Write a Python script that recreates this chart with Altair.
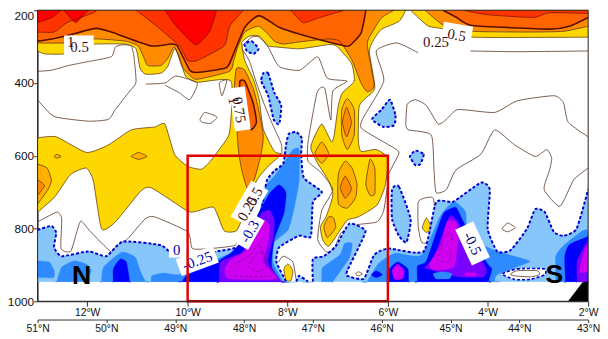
import altair as alt
import pandas as pd

# polygons: "lat hPa lat hPa ..."
YELLOW = [
"51 200 45.65 200 45.75 231 46.00 252 46.11 279 46.18 314 46.10 414 46.26 446 46.33 467 46.34 556 46.30 588 46.08 583 45.91 607 45.95 682 46.07 736 46.34 768 46.50 777 46.63 812 46.77 849 46.86 830 46.89 795 46.81 768 46.74 731 46.71 704 46.77 669 46.93 621 47.03 580 46.99 553 46.87 513 46.73 562 46.69 543 46.63 462 46.57 427 46.40 395 46.44 346 46.66 298 46.79 295 47.19 306 47.53 301 47.65 298 47.78 271 47.92 271 48.03 287 48.03 298 47.99 338 47.86 392 47.78 446 47.72 527 47.56 588 47.46 596 47.65 629 47.82 669 47.99 755 48.11 806 48.29 806 48.44 742 48.68 752 48.82 752 49.35 688 49.51 699 49.87 782 50.07 801 50.19 669 50.29 634 50.47 645 50.55 658 50.76 715 51 755 51 551 50.73 548 50.29 591 49.97 570 49.64 529 49.30 521 49.15 513 49.01 596 48.82 629 48.62 637 48.49 615 48.35 580 48.21 535 48.19 395 48.68 398 48.85 381 48.94 328 49.01 306 49.11 355 49.21 373 49.43 376 49.51 360 49.57 306 49.73 293 50.16 293 50.52 298 50.62 320 50.90 320 51 312",
"45.58 200 45.47 220 45.32 244 45.08 252 44.68 274 43 274 43 200",
"45.35 771 45.41 798 45.35 811 45.28 798",
"47.37 898 47.42 911 47.39 943 47.32 943 47.29 919 47.33 903",
]
ORANGE_LIGHT = [
"46.50 443 46.58 473 46.58 543 46.50 583 46.40 543 46.40 473",
"46.87 562 46.97 594 46.87 621 46.77 594",
"46.53 615 46.63 650 46.63 731 46.50 744 46.38 715 46.36 677 46.43 634",
"46.17 610 46.23 677 46.17 709 46.10 704 46.10 634",
"46.77 768 46.84 795 46.79 825 46.67 798 46.70 771",
"51 623 50.86 634 50.80 669 50.86 696 51 733",
"50.76 602 50.72 596 50.66 602 50.72 607",
"49.64 602 49.53 591 49.41 602 49.53 610",
]
ORANGE = [
"51 200 45.82 200 46.00 220 46.11 252 46.21 293 46.11 406 46.21 424 46.30 400 46.43 338 46.61 285 46.79 279 47.19 287 47.43 293 47.56 285 47.65 266 47.79 244 47.99 260 48.09 301 48.15 338 48.21 368 48.68 390 48.79 379 48.90 355 49.01 301 49.11 333 49.21 352 49.40 352 49.45 333 49.54 298 49.73 285 50.16 279 50.59 290 51 290",
"48.11 360 47.99 365 47.86 419 47.78 481 47.72 548 47.76 602 47.85 664 47.95 691 48.03 642 48.08 588 48.11 508 48.14 414",
"45.37 200 45.08 244 44.68 258 43.89 260 43.36 258 43 244 43 200",
"46.51 467 46.57 508 46.51 548 46.44 508",
"46.53 656 46.60 688 46.53 717 46.44 691",
"51 666 50.90 682 51 709",
]
DEEP_ORANGE = [
"51 200 46.23 200 46.30 263 46.47 298 46.61 295 47.19 266 47.49 247 47.78 215 47.99 247 48.21 346 48.29 360 48.68 371 48.79 365 48.97 298 49.07 293 49.35 298 49.93 260 50.16 250 50.59 271 50.79 279 51 285",
"45.11 200 44.91 220 44.68 242 43.56 252 43.27 244 43 220 43 200",
"48.06 395 47.99 395 47.87 454 47.82 508 47.90 527 48.02 467 48.06 427",
]
RED_ORANGE = [
"51 200 50.14 200 50.19 207 50.57 234 50.76 260 51 260",
"49.57 200 49.30 239 48.94 298 48.82 338 48.68 338 48.29 298 48.21 244 48.01 200",
"47.32 200 46.54 200 46.90 220 47.14 234",
"44.81 200 44.48 212 43.80 220 43.56 207 43 209 43 200",
]
RED = [
"51 200 50.66 200 50.79 220 51 234",
"50.62 200 50.45 234 50.33 212 50.26 200",
"49.15 200 48.97 247 48.70 295 48.50 258 48.40 200",
]
SKY = [
"51 804 50.80 793 50.73 812 50.76 852 50.65 876 50.26 863 50.00 876 49.76 836 49.21 846 49.01 876 48.75 876 48.46 865 48.06 849 47.89 790 47.75 750 47.67 669 47.56 642 47.43 621 47.39 570 47.35 540 47.24 535 47.16 553 47.17 596 47.13 661 46.87 699 47.00 728 47.03 822 47.20 820 47.49 852 47.53 892 47.39 946 51 946",
"47.24 946 47.20 930 47.07 946",
"47.00 946 47.00 884 46.84 876 46.67 849 46.47 787 46.24 804 46.28 830 46.50 916 46.50 930 46.26 938 46.11 873 45.90 855 45.39 863 45.21 728 44.96 726 44.56 674 44.43 693 44.46 801 44.32 863 44.13 860 43.89 801 43.77 747 43.63 755 43.50 809 43.36 820 43.17 801 43 693 43 946",
"47.99 293 47.89 285 47.79 306 47.86 320 47.96 312",
"47.72 373 47.65 373 47.56 427 47.46 462 47.49 513 47.57 500 47.65 435 47.75 395",
"45.88 446 45.80 489 45.82 516 45.97 521 46.14 500 46.00 473",
"45.51 586 45.39 596 45.44 623 45.51 626 45.59 602",
"45.85 693 45.75 685 45.58 774 45.64 838 45.75 820 45.85 774",
]
DODGER = [
"51 889 50.83 892 50.76 916 50.77 935 51 935",
"50.72 946 50.65 906 50.47 889 50.29 898 50.22 916 50.29 946",
"50.07 946 50.04 906 49.78 865 49.58 879 49.51 916 49.43 946",
"49.35 946 49.34 930 49.18 922 48.97 927 48.79 919 48.46 889 48.11 857 47.79 763 47.70 688 47.56 656 47.43 623 47.29 583 47.20 583 47.20 669 47.27 742 47.36 804 47.56 838 47.58 892 47.43 946",
"46.87 946 46.86 908 46.61 873 46.54 841 46.43 841 46.47 881 46.71 946",
"46.21 946 46.04 895 45.80 868 45.42 873 45.15 766 44.95 726 44.78 755 44.75 820 44.36 860 43.87 887 43.89 895 44.32 927 44.36 946",
"43.47 946 43.47 876 43.34 844 43.01 804 43 946",
]
BLUE = [
"49.90 946 49.90 911 49.80 884 49.71 892 49.66 946",
"48.90 946 48.82 927 48.46 898 48.18 865 47.96 817 47.79 758 47.63 704 47.49 680 47.39 702 47.42 758 47.56 830 47.60 903 47.46 946",
"46.15 927 46.08 916 45.99 927 46.08 935",
"45.92 946 45.91 916 45.77 892 45.62 911 45.61 946",
"45.48 946 45.48 903 45.35 889 45.16 785 45.09 755 44.92 742 44.81 782 44.48 892 44.40 911 44.45 946",
"43.33 946 43.34 876 43.27 844 43 822 43 946",
]
VIOLET = [
"47.75 758 47.63 750 47.56 777 47.58 830 47.65 892 47.46 946 48.36 946 48.34 892 48.03 865 47.85 804",
"45.38 908 45.24 879 45.02 768 44.91 777 44.81 809 44.49 906 44.52 933 44.88 933 45.24 916",
"43.16 946 43.16 889 43 830 43 946",
]
INNER_DODGER = ["45.25 924 45.12 919 44.98 924 45.02 938 45.21 938"]
MAGENTA = [
"47.70 777 47.63 795 47.65 838 47.72 892 47.53 938 48.22 938 48.28 911 48.18 884 47.99 863 47.82 804",
"45.31 898 45.14 844 45.05 782 44.92 782 44.89 830 44.95 906 45.24 914",
"45.85 916 45.77 898 45.67 916 45.70 938 45.81 940",
"44.79 922 44.63 922 44.63 930 44.78 930",
"43.13 919 43.05 857 43 844 43 919",
]
OVAL = ["44.25 925 44.03 911 43.64 911 43.63 927 43.84 940 44.07 940"]
MOUNTAIN = ["43.29 1000 43.08 948 43 946 43 1000"]

INNER_DASHED = [
"47.78 844 47.67 892 47.60 930 48.18 930 48.18 903 47.93 876 47.78 844",
"47.85 876 47.75 865 47.67 903 47.79 919 47.93 906 47.85 876",
"45.19 884 45.06 817 44.98 817 45.01 889 45.19 884",
]
CONTOURS = [
"51 368 50.80 365 50.55 352 50.26 341 49.93 328 49.87 301 49.76 295 49.64 298 49.60 328 49.57 398 49.66 422 49.87 473 49.97 500 50.26 505 50.76 492 51 446",
"49.43 403 49.15 400 48.99 381 48.68 400 48.79 446 48.94 427 49.15 406",
"48.36 400 48.25 392 48.32 435 48.36 400",
"48.64 500 48.57 481 48.39 494 48.49 511 48.61 508 48.64 500",
"48.03 306 47.92 341 47.82 400 47.70 462 47.60 508 47.46 567 47.45 596",
"48.03 298 47.89 274 47.78 274 47.65 301 47.49 355 47.19 365 46.93 328 46.79 387 46.50 395 46.71 422 46.74 502 46.83 414 46.94 427 47.07 562 47.07 615 46.89 645 46.71 693 46.87 750 46.93 830 46.80 865 46.69 857 46.59 812 46.37 790 46.07 782 45.97 750 45.90 661 45.90 650 45.75 594 45.81 580 46.28 527 46.28 500 45.97 395 46.08 312 45.78 290 45.47 317",
"44.71 312 44.03 314 43 312",
"45.65 516 45.63 459 45.51 446 45.35 462 45.18 513 45.06 500 44.89 473 44.36 481 44.03 449 43.50 435 43.36 454 43.29 508 43 548",
"45.65 516 45.61 529 45.28 543 45.24 639 45.21 701 45.06 693 44.92 639 44.56 596 44.36 529 44.07 570 43.77 602 43.60 583 43.53 607 43.56 639 43.64 693 43.41 739 43.21 666 43 634",
"44.25 801 44.17 785 44.06 798 44.17 809 44.25 801",
"45.47 728 45.39 717 45.25 717 45.22 787 45.29 836 45.42 838 45.47 793 45.47 728",
"51 782 50.72 755 50.65 774 50.66 855 50.52 863 50.43 809 50.37 779 50.23 809 49.94 863 49.86 849 49.69 828 49.44 774 49.30 768 48.82 809 48.75 855 48.49 855 48.13 846 47.99 809",
"47.50 892 47.43 876 47.29 892 47.24 946",
"46.38 925 46.34 919 46.28 925 46.34 930 46.38 925",
"44.13 925 44.03 916 43.74 916 43.71 927 43.84 933 44.07 930 44.13 925",
]

LAT_TICKS = [51, 50, 49, 48, 47, 46, 45, 44, 43]
LON_TICK_LATS = [50.28, 48.82, 47.37, 45.91, 44.46, 43.0]
LON_LABELS = ["12°W", "10°W", "8°W", "6°W", "4°W", "2°W"]
P_TICKS = [200, 400, 600, 800, 1000]

BOX_LAT = [50.40, 44.91, 48.06, 47.92, 47.92, 48.97, 48.68, 44.68]
BOX_P = [295, 268, 471, 731, 808, 857, 889, 841]
BOX_LEN = [30, 30, 44, 42, 34, 17, 40, 40]
BOX_THICK = [19, 22, 16, 20, 16, 17, 18, 20]
BOX_ANGLE = [0, 10, 82, 300, 300, 0, 340, 65]

LABEL_TEXT = ["0.5", "1", "0.25", "0.5", "0.75", "1", "0.5", "0.25", "-0.3", "0", "-0.25", "-0.5"]
LABEL_LAT = [50.39, 50.52, 45.21, 44.91, 48.07, 48.15, 47.85, 47.95, 47.92, 48.98, 48.68, 44.68]
LABEL_P = [301, 287, 287, 268, 474, 448, 712, 745, 808, 860, 889, 841]
LABEL_ANGLE = [0, 0, 0, 10, 80, 80, 300, 300, 300, 0, 340, 65]
LABEL_COLOR = ["#3a1010"] * 8 + ["#0000b0", "#0000b0", "#0000b0", "#00007a"]

REGION_LAT = [48.82, 45.91]
REGION_P = [600, 1000]

X = alt.Scale(domain=[51, 43], nice=False, zero=False)
Y = alt.Scale(domain=[1000, 200], nice=False, zero=False)
TENSION = 0.45


def parse(s):
    t = s.split()
    return [(float(t[i]), float(t[i + 1])) for i in range(0, len(t), 2)]


def on_frame(u):
    return u[0] in (51, 43) or u[1] in (200, 946, 1000)


def on_edge(u, v):
    return (u[0] == v[0] and u[0] in (51, 43)) or (u[1] == v[1] and u[1] in (200, 946, 1000))


def frame(polys, hard=False):
    rows = []
    for k, s in enumerate(polys):
        i = 0
        for u in parse(s):
            for _ in range(2 if hard and on_frame(u) else 1):
                rows.append({"lat": u[0], "p": u[1], "id": k, "i": i})
                i += 1
    return pd.DataFrame(rows)


def runs(polys):
    out = []
    for s in polys:
        pts = parse(s)
        pts = pts + [pts[0]]
        cur = [pts[0]]
        for u, v in zip(pts, pts[1:]):
            if on_edge(u, v):
                if len(cur) > 1:
                    out.append(cur)
                cur = [v]
            else:
                cur.append(v)
        if len(cur) > 1:
            out.append(cur)
    return [" ".join(f"{a} {b}" for a, b in r) for r in out]


def enc(ch):
    return ch.encode(
        x=alt.X("lat:Q", scale=X, axis=None),
        y=alt.Y("p:Q", scale=Y, axis=None),
        detail="id:N",
        order=alt.Order("i:Q"),
    )


def fill(polys, color):
    return enc(alt.Chart(frame(polys, hard=True)).mark_line(
        filled=True, fill=color, stroke=color, strokeWidth=0.3, clip=True,
        interpolate="cardinal-closed", tension=TENSION))


def line(polys, color, width, dash=None):
    kw = {"strokeDash": dash} if dash else {}
    closed, opened = [], []
    for s in polys:
        pts = parse(s)
        if pts[0] == pts[-1]:
            closed.append(" ".join(f"{a} {b}" for a, b in pts[:-1]))
        else:
            opened.append(s)
    out = []
    if opened:
        out.append(enc(alt.Chart(frame(opened)).mark_line(
            color=color, strokeWidth=width, clip=True, interpolate="cardinal", tension=TENSION, **kw)))
    if closed:
        out.append(enc(alt.Chart(frame(closed)).mark_line(
            color=color, strokeWidth=width, clip=True, interpolate="cardinal-closed", tension=TENSION, **kw)))
    return out


BROWN = "#4d2c1a"
layers = []
for polys, col in [(YELLOW, "#FFD700"), (ORANGE_LIGHT, "#FFB000"), (ORANGE, "#FF8C00"),
                   (DEEP_ORANGE, "#FF6400"), (RED_ORANGE, "#FF3300"), (RED, "#FF0000")]:
    layers.append(fill(polys, col))
for polys, w, c in [(YELLOW, 0.7, BROWN), (ORANGE_LIGHT, 0.7, BROWN), (ORANGE, 0.7, BROWN),
                    (DEEP_ORANGE, 1.6, "#5a0f00"), (RED_ORANGE, 0.7, "#6a1500"), (RED, 0.7, "#6a1500")]:
    layers += line(runs(polys), c, w)
layers += line(CONTOURS, "#6b4a3a", 0.9)
for polys, col in [(SKY, "#87C6FA"), (DODGER, "#2E8BFF"), (BLUE, "#0000FF"), (VIOLET, "#7A00FF"),
                   (INNER_DODGER, "#2E8BFF"), (MAGENTA, "#D000F0")]:
    layers.append(fill(polys, col))
layers += line(INNER_DASHED, "#8000A0", 0.8, [3, 2])
layers += line(runs(SKY), "#0000CD", 2, [3, 2])
layers.append(fill(OVAL, "#FFFFFF"))
layers += line(runs(OVAL), "#0000CD", 1.6, [3, 2])
layers += line(CONTOURS[-1:], "#6b4a3a", 0.9)
layers.append(enc(alt.Chart(frame(MOUNTAIN)).mark_line(filled=True, fill="#000000", stroke="#000000", strokeWidth=0.3, clip=True)))

boxes = pd.DataFrame({
    "lat": BOX_LAT, "p": BOX_P,
    "size": [v * v for v in BOX_LEN],
    "angle": BOX_ANGLE,
    "shape": [f"M-1,{-t / l:.3f}L1,{-t / l:.3f}L1,{t / l:.3f}L-1,{t / l:.3f}Z" for l, t in zip(BOX_LEN, BOX_THICK)],
})
layers.append(alt.Chart(boxes).mark_point(filled=True, fill="#FFFFFF", opacity=1, strokeWidth=0).encode(
    x=alt.X("lat:Q", scale=X, axis=None),
    y=alt.Y("p:Q", scale=Y, axis=None),
    size=alt.Size("size:Q", scale=None),
    angle=alt.Angle("angle:Q", scale=None),
    shape=alt.Shape("shape:N", scale=None),
))
labels = pd.DataFrame({"lat": LABEL_LAT, "p": LABEL_P, "t": LABEL_TEXT, "a": LABEL_ANGLE, "c": LABEL_COLOR})
layers.append(alt.Chart(labels).mark_text(font="Liberation Serif", fontSize=15).encode(
    x=alt.X("lat:Q", scale=X, axis=None),
    y=alt.Y("p:Q", scale=Y, axis=None),
    text="t:N",
    angle=alt.Angle("a:Q", scale=None),
    color=alt.Color("c:N", scale=None),
))
letters = pd.DataFrame({"lat": [50.36, 43.49], "p": [932, 927], "t": ["N", "S"]})
layers.append(alt.Chart(letters).mark_text(font="Liberation Sans", fontSize=27, fontWeight="bold", color="#000000").encode(
    x=alt.X("lat:Q", scale=X, axis=None),
    y=alt.Y("p:Q", scale=Y, axis=None),
    text="t:N",
))

region = pd.DataFrame({"a": [REGION_LAT[0]], "b": [REGION_LAT[1]], "c": [REGION_P[0]], "d": [REGION_P[1]]})
layers.append(alt.Chart(region).mark_rect(filled=False, stroke="#E00000", strokeWidth=2.5).encode(
    x=alt.X("a:Q", scale=X, axis=None), x2="b:Q",
    y=alt.Y("c:Q", scale=Y, axis=None), y2="d:Q",
))
box = pd.DataFrame({"a": [51], "b": [43], "c": [200], "d": [1000]})
layers.append(alt.Chart(box).mark_rect(filled=False, stroke="#222222", strokeWidth=1).encode(
    x=alt.X("a:Q", scale=X, axis=None), x2="b:Q",
    y=alt.Y("c:Q", scale=Y, axis=None), y2="d:Q",
))

axis_data = pd.DataFrame({"lat": [51, 43], "p": [200, 1000]})
lat_axis = alt.Chart(axis_data).mark_point(opacity=0).encode(
    x=alt.X("lat:Q", scale=X, title=None, axis=alt.Axis(
        orient="bottom", values=LAT_TICKS, labelExpr="datum.value + '°N'", offset=18.5, tickSize=3, labelPadding=1,
        labelFontSize=10.5, labelFont="Liberation Sans", labelColor="#111111", domainColor="#333333",
        tickColor="#333333", grid=False, labelFlush=False, labelOverlap=False)),
    y=alt.Y("p:Q", scale=Y, title=None, axis=alt.Axis(
        orient="left", values=P_TICKS, tickSize=4, labelPadding=0, labelFontSize=12, labelFont="Liberation Sans",
        labelColor="#111111", tickColor="#333333", domainColor="#333333", grid=False, format="d",
        labelBaseline={"condition": {"test": "datum.value == 200", "value": "top"}, "value": "middle"},
        labelOverlap=False)),
)
lon_expr = "[" + ",".join(f"'{s}'" for s in LON_LABELS) + "][round((50.28 - datum.value) / 1.456)]"
lon_axis = alt.Chart(axis_data).mark_point(opacity=0).encode(
    x=alt.X("lat:Q", scale=X, title=None, axis=alt.Axis(
        orient="bottom", values=LON_TICK_LATS, labelExpr=lon_expr, tickSize=5, labelPadding=1, labelFontSize=10.5,
        labelFont="Liberation Sans", labelColor="#111111", domainColor="#333333", tickColor="#333333",
        grid=False, labelFlush=False, labelOverlap=False)),
    y=alt.Y("p:Q", scale=Y, axis=None),
)

chart = alt.layer(lat_axis, lon_axis, *layers).resolve_axis(x="independent", y="independent").properties(
    width=558, height=295,
    autosize=alt.AutoSizeParams(type="none"),
    padding={"left": 30, "top": 0, "right": 12, "bottom": 36},
).configure_view(stroke=None)

chart.save("out.html", embed_options={"renderer": "svg", "actions": False})
